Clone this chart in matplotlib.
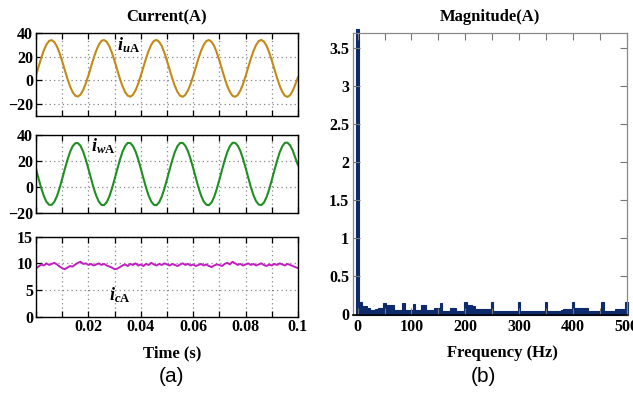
import numpy as np
import matplotlib
matplotlib.use("Agg")
import matplotlib.pyplot as plt
from matplotlib.ticker import FormatStrFormatter, MultipleLocator

plt.rcParams["font.family"] = ["Liberation Serif", "DejaVu Serif"]
plt.rcParams["font.weight"] = "bold"
plt.rcParams["mathtext.fontset"] = "custom"
plt.rcParams["mathtext.it"] = "Liberation Serif:italic:bold"
plt.rcParams["mathtext.rm"] = "Liberation Serif:bold"
plt.rcParams["mathtext.bf"] = "Liberation Serif:bold"

i_u = [4.3, 11.7, 19.0, 25.4, 30.3, 33.3, 34.0, 32.3, 28.6, 23.0,
       16.1, 8.7, 1.4, -5.0, -9.9, -12.9, -13.6, -11.9, -8.1, -2.6,
       4.1, 11.5, 18.8, 25.2, 30.2, 33.4, 34.1, 32.5, 28.8, 23.2,
       16.3, 8.9, 1.6, -4.8, -9.8, -12.8, -13.7, -12.1, -8.3, -2.8,
       3.9, 11.3, 18.6, 25.1, 30.1, 33.3, 34.2, 32.6, 29.0, 23.4,
       16.5, 9.1, 1.8, -4.7, -9.7, -12.9, -13.8, -12.2, -8.4, -3.0,
       3.7, 11.1, 18.5, 24.9, 30.0, 33.2, 34.1, 32.6, 29.1, 23.5,
       16.7, 9.3, 1.9, -4.6, -9.7, -13.0, -13.8, -12.3, -8.5, -3.1,
       3.6, 11.0, 18.3, 24.8, 29.9, 33.2, 34.2, 32.7, 29.2, 23.7,
       16.8, 9.4, 2.1, -4.5, -9.6, -12.9, -13.9, -12.4, -8.6, -3.3,
       2.8]

i_w = [13.8, 6.3, -0.9, -7.0, -11.4, -13.7, -13.7, -11.4, -7.0, -0.9,
       6.3, 13.8, 20.9, 27.0, 31.4, 33.7, 33.8, 31.6, 27.2, 21.1,
       14.0, 6.5, -0.7, -6.8, -11.3, -13.8, -13.9, -11.6, -7.2, -1.1,
       6.1, 13.6, 20.8, 27.0, 31.5, 33.9, 33.8, 31.5, 27.3, 21.3,
       14.2, 6.7, -0.5, -6.7, -11.2, -13.7, -14.0, -11.8, -7.4, -1.3,
       5.9, 13.4, 20.6, 26.9, 31.4, 33.9, 33.9, 31.7, 27.5, 21.5,
       14.5, 7.0, -0.3, -6.5, -11.1, -13.6, -14.0, -11.9, -7.6, -1.5,
       5.7, 13.2, 20.5, 26.8, 31.4, 34.0, 34.0, 31.8, 27.7, 21.8,
       14.8, 7.3, 0.0, -6.3, -10.9, -13.5, -13.9, -12.0, -7.8, -1.8,
       5.4, 12.9, 20.2, 26.6, 31.3, 34.0, 34.1, 32.0, 28.0, 22.3,
       16.8]

i_c = [9.1, 9.4, 9.8, 9.6, 10.0, 9.7, 9.9, 10.1, 9.8, 9.4,
       9.1, 8.9, 9.2, 9.5, 9.4, 9.8, 10.1, 10.3, 9.9, 10.0,
       9.7, 9.9, 9.6, 9.8, 10.0, 9.7, 9.9, 9.6, 9.4, 9.2,
       8.9, 9.0, 9.3, 9.6, 9.8, 9.5, 9.9, 9.7, 10.0, 9.6,
       9.8, 9.5, 9.9, 9.7, 10.1, 9.8, 9.6, 9.9, 9.7, 10.0,
       9.8, 9.6, 9.9, 9.7, 9.5, 9.8, 10.0, 9.7, 9.9, 9.6,
       9.8, 9.5, 9.7, 9.9, 9.6, 9.8, 9.5, 9.3, 9.6, 9.8,
       9.7, 9.5, 9.9, 10.1, 9.8, 10.3, 10.0, 9.7, 9.9, 9.6,
       9.8, 10.0, 9.7, 9.9, 9.6, 9.8, 10.0, 9.7, 9.5, 9.8,
       9.6, 9.9, 9.7, 10.0, 9.8, 9.6, 9.9, 9.7, 9.5, 9.3,
       9.1]

# spectrum, 5 Hz bins from 0 to 500 Hz
freq = list(range(0, 505, 5))
mag = [3.75, 0.16, 0.11, 0.11, 0.09, 0.06, 0.06, 0.07, 0.08, 0.08,
       0.15, 0.13, 0.13, 0.12, 0.06, 0.06, 0.06, 0.15, 0.06, 0.06,
       0.06, 0.14, 0.06, 0.06, 0.13, 0.13, 0.06, 0.06, 0.06, 0.09,
       0.09, 0.15, 0.05, 0.05, 0.05, 0.09, 0.09, 0.05, 0.05, 0.05,
       0.16, 0.13, 0.13, 0.11, 0.07, 0.07, 0.07, 0.07, 0.07, 0.07,
       0.16, 0.04, 0.04, 0.04, 0.05, 0.04, 0.04, 0.04, 0.04, 0.04,
       0.16, 0.04, 0.04, 0.04, 0.04, 0.05, 0.05, 0.05, 0.05, 0.05,
       0.16, 0.04, 0.05, 0.05, 0.05, 0.05, 0.06, 0.07, 0.07, 0.07,
       0.16, 0.08, 0.08, 0.08, 0.08, 0.08, 0.04, 0.04, 0.04, 0.04,
       0.04, 0.16, 0.04, 0.04, 0.04, 0.04, 0.07, 0.07, 0.07, 0.07,
       0.16]

W, H = 633, 395
fig = plt.figure(figsize=(W / 100, H / 100), dpi=100)


def box(x0, y0, x1, y1):
    return [x0 / W, 1 - y1 / H, (x1 - x0) / W, (y1 - y0) / H]


def style_time_axis(ax, ylim, yticks, show_x):
    ax.set_xlim(0, 0.1)
    ax.set_ylim(*ylim)
    ax.set_yticks(yticks)
    ax.set_xticks(np.arange(0, 0.1001, 0.01))
    ax.grid(True, color="#888888", linestyle=(0, (1, 2.5)), linewidth=0.9)
    ax.tick_params(direction="in", top=True, right=False, length=4,
                   labelsize=11.5, pad=2, width=0.9)
    for s in ax.spines.values():
        s.set_linewidth(1.0)
    if show_x:
        labels = ["" if i % 2 else f"{i / 100:g}" for i in range(11)]
        labels[0] = ""
        ax.set_xticklabels(labels)
    else:
        ax.set_xticklabels([])


ax1 = fig.add_axes(box(36, 33, 298, 116))
ax2 = fig.add_axes(box(36, 135, 298, 213))
ax3 = fig.add_axes(box(36, 236.7, 298, 316.7))

t = np.linspace(0, 0.1, len(i_u))
ax1.plot(t, i_u, color="#c28a17", linewidth=1.5)
style_time_axis(ax1, (-30, 40), [-20, 0, 20, 40], False)
ax1.text(0.0355, 30, r"$i_{u\mathrm{A}}$", fontsize=13, ha="center", va="center")

t = np.linspace(0, 0.1, len(i_w))
ax2.plot(t, i_w, color="#1f8f23", linewidth=1.5)
style_time_axis(ax2, (-20, 40), [-20, 0, 20, 40], False)
ax2.text(0.0255, 31.5, r"$i_{w\mathrm{A}}$", fontsize=13, ha="center", va="center")

t = np.linspace(0, 0.1, len(i_c))
ax3.plot(t, i_c, color="#c21fc2", linewidth=1.4)
style_time_axis(ax3, (0, 15), [0, 5, 10, 15], True)
ax3.text(0.032, 4.0, r"$i_{c\mathrm{A}}$", fontsize=13, ha="center", va="center")

fig.text(167 / W, 1 - 17 / H, "Current(A)", ha="center", va="center", fontsize=12)
fig.text(172 / W, 1 - 353 / H, "Time (s)", ha="center", va="center", fontsize=12)
fig.text(172 / W, 1 - 377 / H, "(a)", ha="center", va="center", fontsize=15,
         fontweight="normal", family="Liberation Sans")

# spectrum
ax4 = fig.add_axes(box(353.3, 33, 626.7, 314.5))
navy = "#0c2a6c"
bars = ax4.bar(freq, mag, width=5, color=navy, edgecolor=navy, linewidth=0.8)
for b in bars:
    b.set_clip_on(False)
ax4.set_xlim(-8, 500)
ax4.set_ylim(0, 3.7)
ax4.set_xticks(range(0, 501, 50))
ax4.set_xticklabels([str(v) if v % 100 == 0 else "" for v in range(0, 501, 50)])
ax4.yaxis.set_major_locator(MultipleLocator(0.5))
ax4.yaxis.set_major_formatter(FormatStrFormatter("%g"))
ax4.tick_params(direction="in", top=True, right=True, length=5, labelsize=11.5,
                pad=3, color="#777777", width=0.8)
for name, s in ax4.spines.items():
    s.set_color("#888888" if name != "bottom" else "black")
    s.set_linewidth(0.9 if name != "bottom" else 1.2)

fig.text(490 / W, 1 - 17 / H, "Magnitude(A)", ha="center", va="center", fontsize=12)
fig.text(502 / W, 1 - 353 / H, "Frequency (Hz)", ha="center", va="center", fontsize=12)
fig.text(483 / W, 1 - 377 / H, "(b)", ha="center", va="center", fontsize=15,
         fontweight="normal", family="Liberation Sans")

fig.savefig("out.png", dpi=100)
